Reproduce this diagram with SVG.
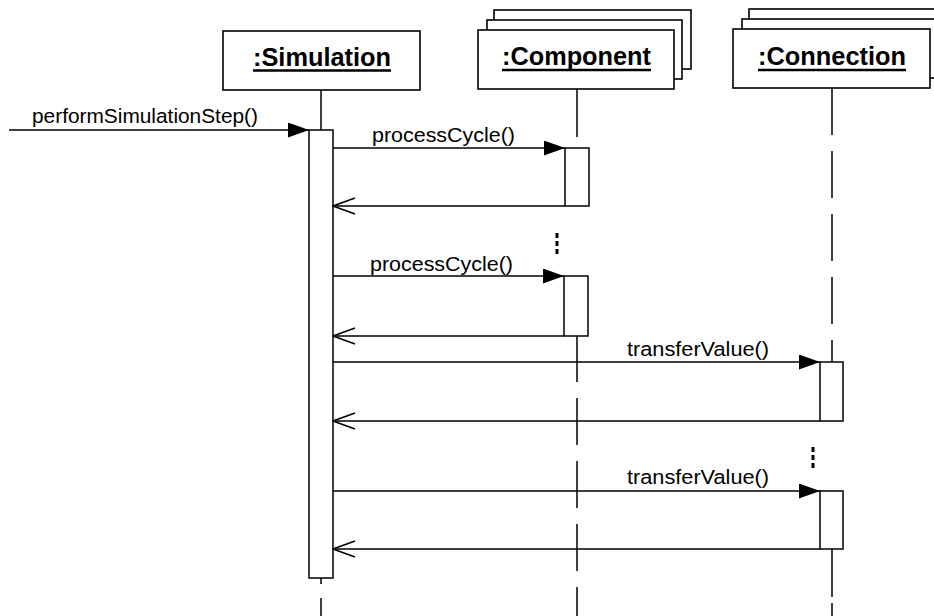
<svg xmlns="http://www.w3.org/2000/svg" width="934" height="616" viewBox="0 0 934 616">
<defs>
<style>
.box{fill:#fff;stroke:#000;stroke-width:1.6}
.act{fill:#fff;stroke:#000;stroke-width:1.5}
.ll{stroke:#000;stroke-width:1.5;fill:none}
.dash{stroke-dasharray:47 16}
.dots{stroke:#000;stroke-width:3;stroke-dasharray:5 3;fill:none}
.msg{stroke:#000;stroke-width:1.5;fill:none}
.title{font-family:"Liberation Sans",Arial,sans-serif;font-weight:bold;font-size:25px;fill:#000}
.ul{stroke:#000;stroke-width:2.5}
.lbl{font-family:"Liberation Sans",Arial,sans-serif;font-size:20.5px;fill:#000}
</style>
<marker id="call" viewBox="0 0 21 15" refX="21" refY="7.5" markerWidth="21" markerHeight="15" markerUnits="userSpaceOnUse" orient="auto">
<path d="M0,0 L21,7.5 L0,15 Z" fill="#000"/>
</marker>
<marker id="ret" viewBox="0 0 24 18" refX="23" refY="9" markerWidth="24" markerHeight="18" markerUnits="userSpaceOnUse" orient="auto">
<path d="M1,1 L23,9 L1,17" fill="none" stroke="#000" stroke-width="1.5"/>
</marker>
</defs>
<rect width="934" height="616" fill="#fff"/>

<g id="simulation">
<rect class="box" x="223" y="31" width="197" height="59"/>
<text class="title" x="322" y="66" text-anchor="middle" textLength="138" lengthAdjust="spacingAndGlyphs">:Simulation</text>
<line class="ul" x1="253" y1="70.5" x2="391" y2="70.5"/>
<line class="ll" x1="321" y1="90" x2="321" y2="130"/>
<line class="ll" x1="321" y1="578" x2="321" y2="584"/>
<line class="ll" x1="321" y1="598" x2="321" y2="616"/>
<rect class="act" x="309" y="130" width="24" height="448"/>
</g>

<g id="component">
<rect class="box" x="494" y="10" width="197" height="59"/>
<rect class="box" x="487" y="20" width="195" height="59"/>
<rect class="box" x="478" y="30" width="196" height="59"/>
<text class="title" x="576.5" y="65" text-anchor="middle" textLength="149" lengthAdjust="spacingAndGlyphs">:Component</text>
<line class="ul" x1="502" y1="70" x2="651" y2="70"/>
<line class="ll" x1="577" y1="89" x2="577" y2="137"/>
<line class="ll dash" x1="577" y1="335" x2="577" y2="616"/>
<line class="dots" x1="557" y1="233" x2="557" y2="255"/>
<rect class="act" x="565" y="148" width="24" height="58"/>
<rect class="act" x="564" y="276" width="24" height="60"/>
</g>

<g id="connection">
<rect class="box" x="749" y="9" width="197" height="59"/>
<rect class="box" x="742" y="19" width="196" height="59"/>
<rect class="box" x="733" y="29" width="197" height="59"/>
<text class="title" x="832" y="65" text-anchor="middle" textLength="148" lengthAdjust="spacingAndGlyphs">:Connection</text>
<line class="ul" x1="758" y1="70" x2="906" y2="70"/>
<line class="ll" x1="832" y1="88" x2="832" y2="135"/>
<line class="ll dash" x1="832" y1="151" x2="832" y2="362"/>
<line class="dots" x1="813" y1="447" x2="813" y2="468"/>
<line class="ll" x1="832" y1="549" x2="832" y2="597"/>
<line class="ll" x1="832" y1="603" x2="832" y2="616"/>
<rect class="act" x="820" y="362" width="23" height="59"/>
<rect class="act" x="820" y="491" width="23" height="58"/>
</g>

<g id="connectors">
<line class="msg" x1="9" y1="130" x2="309" y2="130" marker-end="url(#call)"/>
<text class="lbl" x="32" y="123" textLength="226" lengthAdjust="spacingAndGlyphs">performSimulationStep()</text>

<line class="msg" x1="333" y1="148" x2="565" y2="148" marker-end="url(#call)"/>
<text class="lbl" x="372" y="142" textLength="143" lengthAdjust="spacingAndGlyphs">processCycle()</text>
<line class="msg" x1="565" y1="206" x2="333" y2="206" marker-end="url(#ret)"/>

<line class="msg" x1="333" y1="276" x2="564" y2="276" marker-end="url(#call)"/>
<text class="lbl" x="370" y="271" textLength="143" lengthAdjust="spacingAndGlyphs">processCycle()</text>
<line class="msg" x1="564" y1="336" x2="333" y2="336" marker-end="url(#ret)"/>

<line class="msg" x1="333" y1="362" x2="820" y2="362" marker-end="url(#call)"/>
<text class="lbl" x="627" y="356" textLength="142" lengthAdjust="spacingAndGlyphs">transferValue()</text>
<line class="msg" x1="820" y1="421" x2="333" y2="421" marker-end="url(#ret)"/>

<line class="msg" x1="333" y1="491" x2="820" y2="491" marker-end="url(#call)"/>
<text class="lbl" x="627" y="484" textLength="142" lengthAdjust="spacingAndGlyphs">transferValue()</text>
<line class="msg" x1="820" y1="549" x2="333" y2="549" marker-end="url(#ret)"/>
</g>
</svg>
